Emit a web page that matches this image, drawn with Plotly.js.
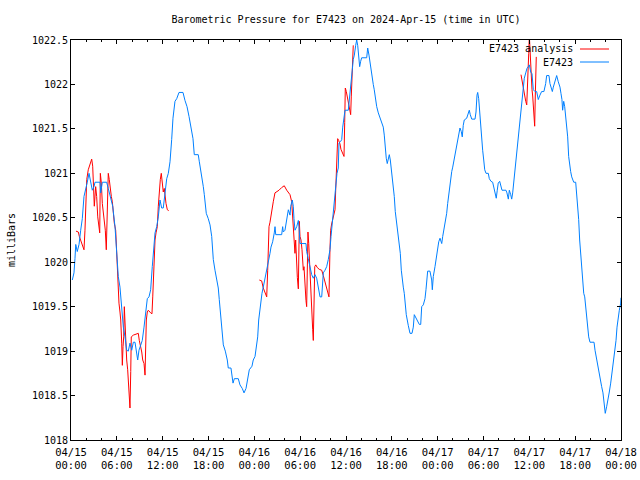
<!DOCTYPE html>
<html>
<head>
<meta charset="utf-8">
<script src="https://cdn.plot.ly/plotly-3.0.1.min.js"></script>
<style>html,body{margin:0;padding:0;background:#fff;}#chart{width:640px;height:480px;}</style>
</head>
<body>
<div id="chart"></div>
<script>
// Hours after 2024-04-15 00:00 UTC
var stationHours = [0.17,0.39,0.52,0.62,0.82,1.05,1.27,1.48,1.70,1.92,2.13,2.36,2.58,2.79,3.01,3.14,3.80,3.89,4.10,4.67,4.88,5.20,5.46,5.76,5.98,6.19,6.41,6.64,6.85,7.07,7.29,7.50,7.72,7.95,8.16,8.38,8.60,8.73,8.90,9.12,9.33,9.56,9.78,9.99,10.21,10.43,10.64,10.77,11.00,11.22,11.43,11.65,11.87,12.08,12.31,12.53,12.74,12.96,13.18,13.35,13.61,13.84,14.14,14.66,14.92,15.19,15.45,15.71,15.97,16.14,16.66,16.80,17.02,17.15,17.32,17.45,17.58,17.71,17.97,18.20,18.42,18.63,18.85,19.07,19.28,19.41,19.54,19.68,19.94,20.20,20.46,20.59,20.94,21.21,21.38,21.90,22.12,22.42,22.65,22.91,23.13,23.34,23.69,23.86,24.09,24.31,24.44,24.57,24.70,24.83,25.00,25.17,25.36,25.62,25.79,26.05,26.18,26.40,26.61,26.71,26.80,27.58,27.71,27.79,28.01,28.24,28.45,28.67,28.76,28.97,29.10,29.19,29.32,29.55,29.76,29.85,29.98,30.76,30.85,31.06,31.29,31.51,31.72,31.94,32.16,32.37,32.60,32.82,32.95,33.03,33.25,33.47,33.68,33.90,34.04,34.17,34.30,34.43,34.56,34.69,34.82,34.99,35.08,35.31,35.44,35.57,35.70,35.87,36.30,36.43,36.56,36.69,36.82,36.95,37.09,37.27,37.40,37.53,37.66,37.79,37.92,38.05,38.71,38.84,39.01,39.14,39.27,39.40,39.57,39.70,39.83,40.02,40.23,40.45,40.67,40.88,41.01,41.14,41.27,41.40,41.54,41.67,41.80,41.93,42.06,42.19,42.32,42.45,42.58,42.71,42.85,42.98,43.11,43.24,43.37,43.50,43.63,43.76,43.89,44.15,44.38,44.64,44.81,44.94,45.16,45.39,45.60,45.78,45.91,46.12,46.34,46.47,46.60,46.69,46.99,47.22,47.30,47.43,47.65,47.78,47.95,48.14,48.31,48.53,48.66,48.87,49.05,49.18,49.31,49.44,49.57,49.71,49.84,49.97,50.14,50.27,50.40,50.53,50.66,50.79,50.92,51.09,51.22,51.35,51.48,51.80,52.01,52.14,52.27,52.46,52.89,53.02,53.15,53.24,53.37,53.50,53.63,53.76,53.89,54.03,54.16,54.33,54.63,54.76,54.98,55.20,55.37,55.54,55.67,55.80,55.93,56.12,56.25,56.42,56.94,57.07,57.25,57.38,57.56,57.69,57.82,57.90,58.03,58.16,58.30,58.43,58.56,58.69,58.82,58.95,59.08,59.21,59.34,59.53,59.69,59.86,60.00,60.18,60.35,60.52,60.74,60.96,61.17,61.39,61.61,61.91,62.14,62.27,62.57,62.70,62.84,63.01,63.14,63.36,63.58,63.79,64.01,64.14,64.27,64.36,64.50,64.63,64.76,64.89,65.02,65.15,65.28,65.41,65.55,65.68,65.81,66.07,66.20,66.33,66.46,66.59,66.72,66.85,66.99,67.12,67.25,67.38,67.51,67.64,67.77,67.94,68.47,68.60,68.77,68.95,69.12,69.29,69.47,69.64,69.77,69.94,70.13,70.30,70.47,70.65,70.82,71.00,71.18,71.35,71.48,71.61,71.78,71.96,72.00];
var stationPressure = [1019.80,1019.88,1020.04,1020.20,1020.12,1020.20,1020.36,1020.49,1020.74,1020.81,1020.90,1021.00,1020.89,1020.81,1020.85,1020.90,1020.90,1020.78,1020.90,1020.90,1020.83,1020.70,1020.63,1020.40,1020.10,1019.84,1019.72,1019.46,1019.27,1019.16,1019.01,1019.00,1019.09,1019.01,1019.10,1019.10,1018.98,1018.90,1019.01,1019.07,1019.12,1019.27,1019.44,1019.59,1019.61,1019.69,1019.95,1020.10,1020.33,1020.40,1020.51,1020.70,1020.61,1020.61,1020.78,1020.94,1021.00,1021.13,1021.38,1021.62,1021.81,1021.84,1021.91,1021.91,1021.82,1021.75,1021.64,1021.51,1021.39,1021.21,1021.21,1021.13,1021.02,1020.96,1020.85,1020.76,1020.64,1020.55,1020.49,1020.42,1020.29,1020.03,1019.91,1019.82,1019.71,1019.58,1019.46,1019.24,1019.07,1019.00,1018.90,1018.81,1018.81,1018.64,1018.69,1018.69,1018.62,1018.58,1018.53,1018.58,1018.67,1018.79,1018.83,1018.90,1018.94,1019.05,1019.16,1019.35,1019.46,1019.56,1019.65,1019.72,1019.80,1019.89,1020.00,1020.10,1020.17,1020.23,1020.33,1020.40,1020.31,1020.31,1020.40,1020.34,1020.36,1020.49,1020.59,1020.53,1020.63,1020.70,1020.63,1020.49,1020.36,1020.40,1020.47,1020.40,1020.21,1020.21,1020.12,1020.04,1019.93,1019.86,1019.82,1019.86,1019.82,1019.72,1019.61,1019.61,1019.74,1019.88,1019.91,1019.95,1020.03,1020.14,1020.29,1020.42,1020.55,1020.66,1020.78,1020.87,1021.00,1021.06,1021.34,1021.36,1021.38,1021.52,1021.60,1021.71,1021.71,1021.81,1021.92,1022.00,1022.16,1022.28,1022.33,1022.44,1022.50,1022.44,1022.33,1022.20,1022.26,1022.30,1022.30,1022.41,1022.33,1022.24,1022.14,1022.05,1022.00,1021.94,1021.84,1021.75,1021.68,1021.62,1021.58,1021.52,1021.43,1021.28,1021.17,1021.11,1021.17,1021.21,1021.15,1021.06,1020.94,1020.85,1020.74,1020.57,1020.48,1020.42,1020.34,1020.25,1020.10,1019.91,1019.78,1019.72,1019.65,1019.54,1019.41,1019.29,1019.20,1019.20,1019.27,1019.41,1019.37,1019.34,1019.30,1019.30,1019.50,1019.52,1019.59,1019.69,1019.80,1019.90,1019.90,1019.80,1019.69,1019.84,1019.95,1020.04,1020.16,1020.23,1020.27,1020.21,1020.29,1020.38,1020.46,1020.55,1020.66,1020.76,1020.85,1020.94,1021.02,1021.07,1021.15,1021.21,1021.26,1021.36,1021.41,1021.47,1021.51,1021.47,1021.41,1021.54,1021.60,1021.62,1021.68,1021.71,1021.66,1021.61,1021.61,1021.69,1021.88,1021.91,1021.84,1021.68,1021.58,1021.41,1021.26,1021.15,1021.04,1021.00,1021.00,1020.94,1020.91,1020.90,1020.83,1020.74,1020.72,1020.81,1020.89,1020.91,1020.85,1020.81,1020.81,1020.78,1020.71,1020.81,1020.76,1020.71,1020.78,1020.85,1020.98,1021.11,1021.22,1021.30,1021.38,1021.51,1021.64,1021.77,1021.90,1022.00,1022.07,1022.13,1022.18,1022.20,1022.22,1022.14,1022.12,1021.94,1021.92,1021.92,1021.83,1021.88,1021.92,1021.92,1022.01,1022.10,1022.10,1022.01,1021.97,1021.92,1021.97,1022.05,1022.10,1022.03,1021.97,1021.90,1021.83,1021.71,1021.81,1021.75,1021.64,1021.52,1021.41,1021.19,1021.07,1021.02,1020.96,1020.93,1020.90,1020.90,1020.78,1020.66,1020.48,1020.25,1020.10,1019.91,1019.76,1019.65,1019.61,1019.50,1019.39,1019.27,1019.16,1019.10,1019.10,1019.01,1018.92,1018.83,1018.75,1018.67,1018.60,1018.53,1018.43,1018.30,1018.38,1018.45,1018.54,1018.64,1018.75,1018.86,1018.99,1019.12,1019.27,1019.37,1019.46,1019.54,1019.60];

// Analysis series (null = gap)
var analysisHours = [0.65,0.96,1.09,1.27,1.48,1.70,1.83,1.92,2.06,2.26,2.49,2.71,2.84,2.92,3.05,3.23,3.36,3.50,3.63,3.76,3.84,3.97,4.10,4.23,4.36,4.49,4.62,4.71,4.80,4.88,5.01,5.14,5.28,5.41,5.54,5.67,5.85,5.98,6.06,6.19,6.28,6.41,6.51,6.64,6.72,6.81,6.90,6.98,7.16,7.29,7.42,7.55,7.63,7.72,7.82,7.89,8.16,8.51,8.81,8.94,9.12,9.26,9.39,9.56,9.69,9.78,9.86,9.99,10.12,10.43,10.60,10.70,10.83,10.90,11.00,11.13,11.30,11.43,11.56,11.69,11.82,11.95,12.08,12.21,12.31,12.44,12.61,12.79,
  18.0,
  24.65,24.96,25.17,25.40,25.62,25.75,25.83,25.92,26.05,26.18,26.31,26.48,26.70,26.93,27.23,27.58,27.92,28.24,28.45,28.67,28.89,28.97,29.10,29.23,29.32,29.41,29.55,29.63,29.76,29.89,29.98,30.11,30.24,30.33,30.41,30.50,30.63,30.76,30.85,30.93,31.02,31.12,31.20,31.29,31.38,31.46,31.55,31.64,31.72,31.82,31.91,32.04,32.24,32.50,32.82,33.03,33.25,33.47,33.60,33.77,33.90,33.99,34.12,34.26,34.39,34.56,34.65,34.78,34.91,35.04,35.21,35.34,35.52,35.74,35.83,35.91,36.04,36.17,36.35,36.48,36.61,36.69,36.78,36.82,36.92,36.95,
  48.0,
  58.91,59.04,59.21,59.34,59.53,59.66,59.73,59.82,59.92,60.00,60.09,60.18,60.26,60.35,60.44,60.52,60.61,60.70,60.78,60.87,60.91];
var analysisPressure = [1020.35,1020.34,1020.29,1020.25,1020.19,1020.14,1020.36,1020.74,1020.93,1021.04,1021.11,1021.16,1021.08,1020.89,1020.63,1020.85,1020.74,1020.51,1020.40,1020.33,1021.00,1020.89,1020.66,1020.55,1020.46,1020.36,1020.14,1020.40,1020.66,1021.00,1020.93,1020.80,1020.74,1020.68,1020.55,1020.44,1020.36,1020.06,1020.03,1019.73,1019.54,1019.44,1019.35,1019.09,1018.84,1019.05,1019.16,1019.50,1019.05,1018.90,1018.79,1018.60,1018.49,1018.36,1018.77,1019.16,1019.18,1019.19,1019.20,1019.12,1019.05,1018.99,1018.90,1018.86,1018.73,1019.09,1019.35,1019.44,1019.46,1019.43,1019.42,1019.61,1019.99,1020.06,1020.25,1020.33,1020.40,1020.63,1020.81,1020.93,1021.00,1020.87,1020.79,1020.83,1020.72,1020.66,1020.59,1020.58,
  null,
  1019.80,1019.79,1019.71,1019.65,1019.61,1019.91,1020.13,1020.40,1020.45,1020.53,1020.63,1020.68,1020.78,1020.79,1020.81,1020.84,1020.86,1020.81,1020.79,1020.76,1020.68,1020.55,1020.40,1020.21,1020.10,1020.25,1019.91,1019.83,1019.70,1020.46,1020.29,1020.25,1020.14,1020.03,1019.91,1019.95,1019.69,1019.57,1019.50,1019.84,1020.34,1020.21,1020.03,1019.84,1019.65,1019.48,1019.35,1019.24,1019.12,1019.53,1019.95,1019.97,1019.94,1019.92,1019.91,1019.85,1019.78,1019.72,1019.66,1019.61,1020.14,1020.36,1020.43,1020.49,1020.55,1020.59,1020.81,1021.06,1021.39,1021.37,1021.33,1021.27,1021.23,1021.19,1021.57,1021.96,1021.92,1021.86,1021.79,1021.71,1021.66,1021.86,1022.05,1022.24,1022.33,1022.44,
  null,
  1022.11,1022.05,1021.94,1021.87,1021.81,1021.77,1022.01,1022.24,1022.35,1022.55,1022.35,1022.20,1022.13,1021.94,1021.87,1021.71,1021.60,1021.53,1021.87,1022.09,1022.31];

var yTickVals = [1018,1018.5,1019,1019.5,1020,1020.5,1021,1021.5,1022,1022.5];
var yTickText = ['1018','1018.5','1019','1019.5','1020','1020.5','1021','1021.5','1022','1022.5'];
var seriesNames = ['E7423 analysis','E7423'];

function pad(n){return (n<10?'0':'')+n;}
function toDate(h){
  if (h === null) return null;
  var d = new Date(Date.UTC(2024,3,15) + Math.round(h*3600000));
  return d.getUTCFullYear()+'-'+pad(d.getUTCMonth()+1)+'-'+pad(d.getUTCDate())+' '+pad(d.getUTCHours())+':'+pad(d.getUTCMinutes())+':'+pad(d.getUTCSeconds());
}

var FONT = 'DejaVu Sans Mono, Liberation Mono, monospace';
var RED = '#ff0000', BLUE = '#0080ff';

var traces = [
  {x: analysisHours.map(toDate), y: analysisPressure, type:'scatter', mode:'lines',
   name: seriesNames[0], connectgaps:false, line:{color:RED, width:1}},
  {x: stationHours.map(toDate), y: stationPressure, type:'scatter', mode:'lines',
   name: seriesNames[1], line:{color:BLUE, width:1}}
];

var layout = {
  width:640, height:480,
  margin:{l:71, r:19, t:40, b:40},
  paper_bgcolor:'#fff', plot_bgcolor:'#fff',
  showlegend:false,
  font:{family:FONT, size:10, color:'#000'},
  title:{text:'Barometric Pressure for E7423 on 2024-Apr-15 (time in UTC)',
         font:{family:FONT, size:10, color:'#000'},
         x:0.5, xref:'paper', xanchor:'center', y:1-19/480, yref:'container', yanchor:'middle'},
  xaxis:{type:'date', range:['2024-04-15 00:00:00','2024-04-18 00:00:00'],
         tick0:'2024-04-15 00:00:00', dtick:6*3600000, tickformat:'%m/%d<br>%H:%M',
         ticks:'inside', ticklen:4, tickwidth:1, tickcolor:'#000', ticklabelstandoff:2,
         showline:true, linecolor:'#000', linewidth:1, mirror:'allticks',
         showgrid:false, zeroline:false,
         minor:{dtick:2*3600000, ticks:'inside', ticklen:2, tickcolor:'#000', showgrid:false},
         tickfont:{family:FONT, size:10.5, color:'#000'}},
  yaxis:{range:[1018,1022.5], tickmode:'array', tickvals:yTickVals, ticktext:yTickText,
         ticks:'inside', ticklen:4, tickwidth:1, tickcolor:'#000',
         showline:true, linecolor:'#000', linewidth:1, mirror:'allticks',
         showgrid:false, zeroline:false,
         tickfont:{family:FONT, size:10, color:'#000'},
         title:{text:'milliBars', font:{family:FONT, size:10, color:'#000'}, standoff:14}},
  annotations:[
    {xref:'paper', yref:'paper', x:(575-71)/550, y:(440-49)/400, xanchor:'right', yanchor:'middle',
     text:seriesNames[0], showarrow:false, font:{family:FONT, size:10, color:'#000'}},
    {xref:'paper', yref:'paper', x:(575-71)/550, y:(440-62)/400, xanchor:'right', yanchor:'middle',
     text:seriesNames[1], showarrow:false, font:{family:FONT, size:10, color:'#000'}}
  ],
  shapes:[
    {type:'line', xref:'paper', yref:'paper', x0:(580-71)/550, x1:(609-71)/550, y0:(440-49)/400, y1:(440-49)/400, line:{color:RED, width:1}},
    {type:'line', xref:'paper', yref:'paper', x0:(580-71)/550, x1:(609-71)/550, y0:(440-62)/400, y1:(440-62)/400, line:{color:BLUE, width:1}}
  ]
};

Plotly.newPlot('chart', traces, layout, {staticPlot:true, displayModeBar:false});
</script>
</body>
</html>
